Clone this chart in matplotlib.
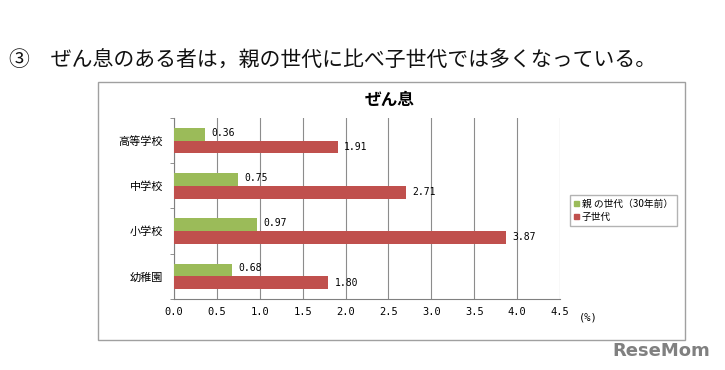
import matplotlib.pyplot as plt
from matplotlib.patches import Rectangle, Patch

plt.rcParams['font.family'] = ['Noto Sans CJK JP', 'DejaVu Sans']

categories = ['高等学校', '中学校', '小学校', '幼稚園']
parents = [0.36, 0.75, 0.97, 0.68]
children = [1.91, 2.71, 3.87, 1.80]
xticks = [0.0, 0.5, 1.0, 1.5, 2.0, 2.5, 3.0, 3.5, 4.0, 4.5]
series_names = ['親 の世代（30年前）', '子世代']

green = '#9BBB59'
red = '#C0504D'

fig = plt.figure(figsize=(7.25, 3.7), dpi=100)

# header line
fig.text(0.012, 0.835, '③　ぜん息のある者は，親の世代に比べ子世代では多くなっている。',
         fontsize=15, va='center', ha='left', color='#111111')

# chart frame
fig.patches.append(Rectangle((0.135, 0.081), 0.81, 0.697, transform=fig.transFigure,
                             fill=False, edgecolor='#A0A0A0', linewidth=1.0))

fig.text(0.537, 0.73, 'ぜん息', fontsize=12, fontweight='bold', ha='center', va='center')

ax = fig.add_axes([0.24, 0.192, 0.5324, 0.489])

ypos = [3, 2, 1, 0]
h = 0.28
ax.barh([y + 0.14 for y in ypos], parents, height=h, color=green, zorder=3)
ax.barh([y - 0.14 for y in ypos], children, height=h, color=red, zorder=3)

for y, v in zip(ypos, parents):
    ax.text(v + 0.07, y + 0.18, f'{v:.2f}', fontsize=7, va='center', ha='left',
            family='DejaVu Sans Mono')
for y, v in zip(ypos, children):
    ax.text(v + 0.07, y - 0.14, f'{v:.2f}', fontsize=7, va='center', ha='left',
            family='DejaVu Sans Mono')

ax.set_xlim(0, 4.5)
ax.set_ylim(-0.5, 3.5)
ax.set_xticks(xticks)
ax.set_xticklabels([f'{t:.1f}' for t in xticks], fontsize=7.5, family='DejaVu Sans Mono')
ax.tick_params(axis='x', length=0, pad=6)
ax.set_yticks(ypos)
ax.set_yticklabels(categories, fontsize=8)
ax.tick_params(axis='y', which='major', length=0, pad=8)
ax.set_yticks([-0.5, 0.5, 1.5, 2.5, 3.5], minor=True)
ax.tick_params(axis='y', which='minor', length=3, color='#808080', direction='out')

ax.grid(axis='x', color='#8C8C8C', linewidth=0.8, zorder=0)
for s in ['top', 'right']:
    ax.spines[s].set_visible(False)
for s in ['left', 'bottom']:
    ax.spines[s].set_color('#808080')

ax.text(4.72, -0.9, '(%)', fontsize=7.5, ha='left', va='center', family='DejaVu Sans Mono')

handles = [Patch(color=green), Patch(color=red)]
fig.legend(handles, series_names, loc='upper left', bbox_to_anchor=(0.779, 0.487),
           fontsize=7, frameon=True, fancybox=False, edgecolor='#A0A0A0',
           handlelength=0.5, handleheight=0.5, handletextpad=0.3,
           borderpad=0.45, labelspacing=0.3)

fig.text(0.98, 0.052, 'ReseMom', fontsize=13, fontweight='bold', color='#808080',
         ha='right', va='center', family='DejaVu Sans')

fig.savefig('out.png', dpi=100)
